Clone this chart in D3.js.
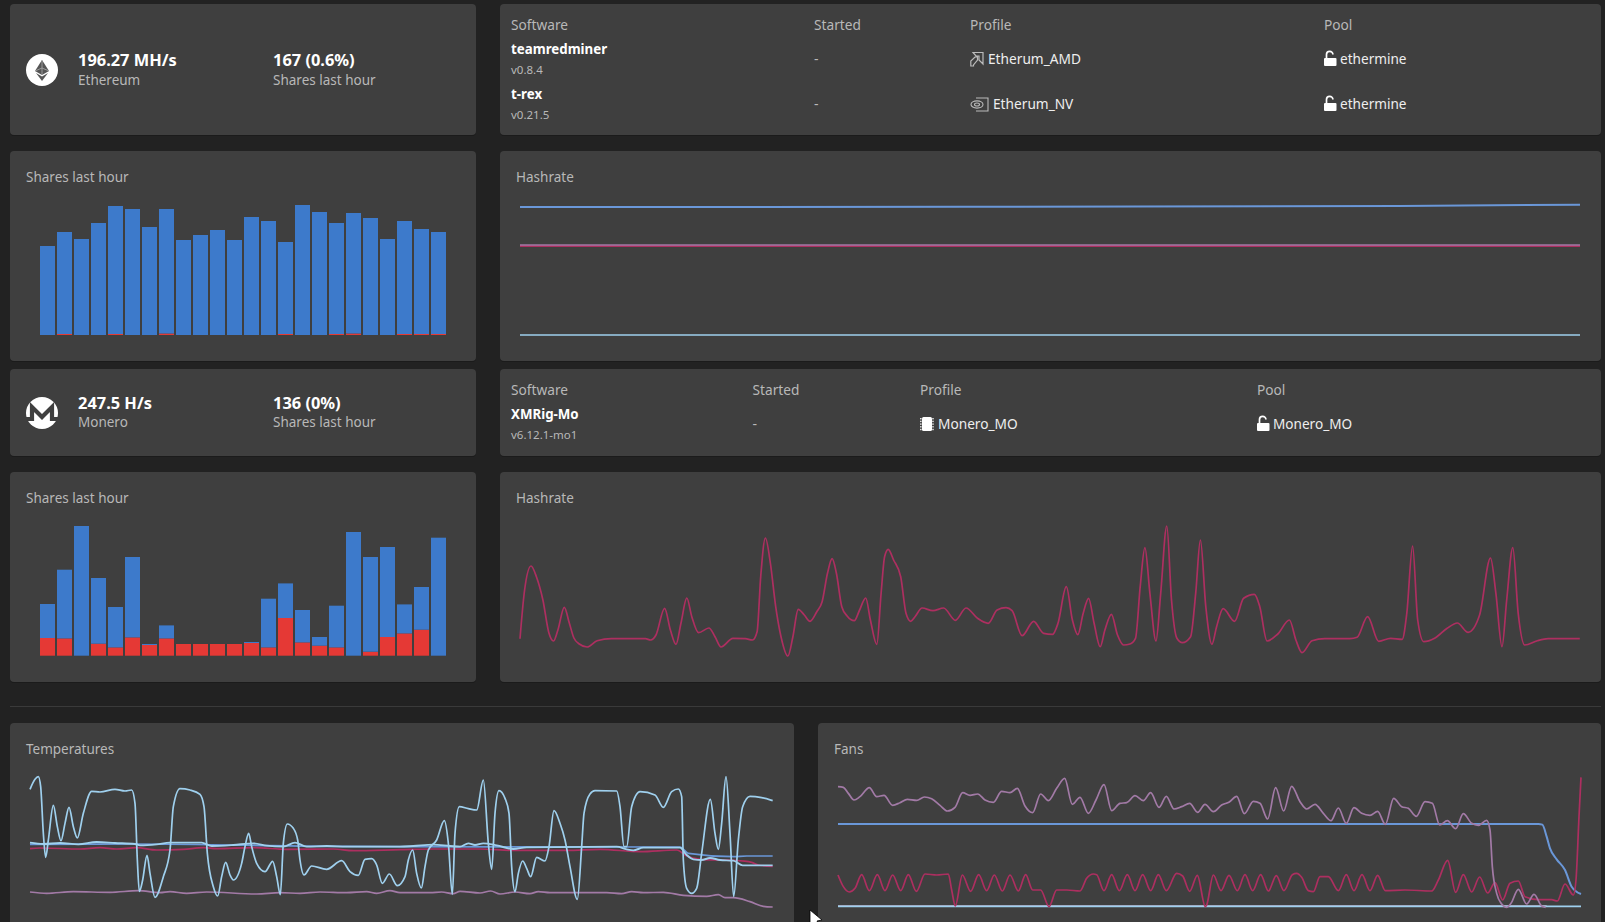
<!DOCTYPE html>
<html><head><meta charset="utf-8"><title>Miner dashboard</title>
<script src="https://cdn.jsdelivr.net/npm/d3@7/dist/d3.min.js"></script>
<style>html,body{margin:0;padding:0;background:#222;overflow:hidden}svg{display:block}text{font-family:"Noto Sans",sans-serif}</style>
</head><body><svg id="c" width="1605" height="922"></svg>
<script>
// ---- Shares last hour (Ethereum): accepted / rejected per period
const ethAccepted=[89,102,96,112,128,126,108,124.5,95,100,105,95,118,114,92,130,123,111,120.5,117,96,113,105,102];
const ethRejected=[0,1,0,0,1,0,0,1.5,0,0,0,0,0,0,1,0,0,1,1.5,0,0,1,1,1];
// ---- Shares last hour (Monero)
const xmrAccepted=[34,68.7,129.7,65.7,40.4,80.4,1,13,0,0,0,0,1,48.7,34.6,32.4,8.7,41.7,123.7,94.7,90,29,42.7,118];
const xmrRejected=[17.7,17.3,0,12,8.3,18.3,10.7,17.3,11.7,11.7,11.7,11.7,12.7,8.3,37.7,13.3,10,8.3,0,4,18.7,22.3,26,0];
// ---- Hashrate (Ethereum): [time, rate]
const ethHashTotal=[[0,129],[440,129.2],[880,130],[1060,131.3]];
const ethHashAmd=[[0,90],[1060,90]];
const ethHashNv=[[0,91],[1060,91]];
const ethHashRest=[[0,1],[1060,1]];
// ---- Hashrate (Monero): [time, rate]
const xmrHash=[[0,17.3],[4.6,66],[11,90],[16.4,79.3],[22.9,56],[28.9,23],[33.6,15],[37.9,26],[44.3,48.7],[49.3,33],[53.9,18],[59.3,12],[67.1,9],[77.1,15.3],[91.4,17.3],[125.4,17.3],[130.7,16],[136,21],[144.6,47.7],[150.4,26],[156,11.7],[161,33],[166.8,58],[171.8,39.3],[178.6,23.3],[188.9,28],[195,19.3],[201,9],[212.9,17.7],[225.4,17.3],[232.5,16],[237.1,24.3],[240.7,79.3],[245.4,118],[250.4,92.7],[255.7,49.3],[261,19.3],[267.9,0],[272.9,19.3],[278.2,46.7],[284.3,41],[290,34.7],[296.8,44.3],[302.1,54.3],[307.5,82.7],[312.1,97.3],[316.4,82.7],[321.8,49.3],[327.1,40],[334.3,35.3],[339.6,46],[345.7,58],[350.4,36],[356.8,11.7],[361.1,62.7],[364.6,99.3],[368.2,106.7],[373.6,96],[380.7,79.3],[386,42.7],[390.7,34.7],[395,39.3],[402.1,48],[412.9,45.3],[423.6,48],[435.4,35.7],[446,48],[457.5,37.7],[468.2,32.7],[477.1,46],[486,48.3],[492.1,45.3],[502.1,20.3],[513.6,34.7],[523.6,22.7],[532.6,21.7],[538,32.7],[546.3,69.3],[552.4,36],[557.8,21.3],[563.2,42.7],[568.6,57.7],[574.1,32.7],[580.2,9.3],[584.9,26],[591.4,41.7],[597.5,21],[603.6,11],[610,12],[615.5,17.7],[620.2,69.3],[624.9,108.3],[629.9,62.7],[636,15],[640.7,62.7],[646.8,130],[651.5,56],[656.9,17.7],[662.3,13.3],[670.6,19.3],[675.7,62.7],[680.4,116],[685.8,49.3],[691.9,11.7],[696.6,29.3],[703.1,47.3],[714.6,34.7],[723.6,57.7],[734.4,61.7],[739.8,49.3],[747,15],[757.8,22],[769.4,36],[775.9,16],[782,3.3],[792.1,15.3],[804.7,17.3],[829.9,17.3],[837.1,18.7],[847.6,39.3],[858.7,14.7],[870.6,17.7],[882.2,16.7],[886.8,42.7],[892.6,110],[897.7,36],[903.8,14.3],[914.6,17.7],[927.2,27.7],[937.3,33],[948.1,23.7],[959.6,41],[970.5,98],[975.9,62.7],[982,9.3],[986.7,56],[992.8,108.3],[998.2,42.7],[1004.7,11],[1017.3,15.3],[1028.1,17.3],[1059.8,17.3]];
// ---- Temperatures: [time, degrees]
const tempA=[[90,372],[105,402],[115,410],[122,380],[130,240],[137,168],[145,220],[160,324],[172,260],[183,218],[195,270],[207,318],[220,260],[232,226],[250,300],[275,366],[300,364],[345,372],[375,367],[395,370],[405,330],[412,160],[418,66],[428,100],[441,174],[450,120],[465,48],[490,110],[510,190],[520,320],[540,374],[570,370],[600,357],[612,320],[622,180],[640,80],[653,52],[665,110],[677,153],[690,115],[700,100],[725,150],[735,200],[746,240],[755,200],[770,150],[795,125],[818,156],[830,110],[841,56],[850,210],[862,268],[880,255],[893,220],[900,160],[912,115],[935,142],[980,132],[1025,158],[1050,125],[1075,114],[1095,162],[1115,164],[1130,145],[1147,90],[1168,118],[1192,83],[1215,110],[1225,160],[1238,190],[1250,120],[1264,76],[1275,140],[1285,190],[1310,220],[1333,278],[1345,210],[1357,57],[1365,240],[1378,320],[1405,314],[1430,310],[1450,400],[1465,210],[1475,132],[1485,300],[1497,368],[1515,345],[1527,300],[1535,140],[1545,65],[1555,120],[1568,157],[1580,135],[1592,110],[1610,168],[1635,157],[1647,200],[1662,308],[1680,270],[1695,220],[1710,140],[1732,42],[1745,200],[1752,300],[1770,358],[1785,368],[1850,367],[1860,320],[1872,200],[1880,200],[1895,320],[1920,365],[1965,355],[1990,318],[2015,365],[2035,373],[2045,350],[2050,160],[2060,75],[2075,60],[2090,75],[2105,180],[2131,342],[2145,240],[2155,192],[2165,270],[2178,410],[2190,240],[2201,50],[2215,220],[2228,320],[2250,351],[2285,347],[2318,338]];
const tempB=[[90,212],[130,208],[180,211],[235,207],[290,214],[345,211],[405,208],[420,204],[470,207],[510,212],[605,212],[635,202],[700,205],[760,210],[800,203],[850,200],[885,212],[920,200],[980,202],[1040,200],[1200,200],[1240,202],[1300,206],[1350,202],[1380,200],[1405,210],[1425,205],[1450,210],[1490,204],[1540,193],[1580,198],[1850,200],[1880,192],[1900,189],[1930,197],[2040,197],[2060,175],[2080,162],[2105,160],[2130,166],[2160,160],[2200,158],[2228,144],[2318,144]];
const tempC=[[90,207],[400,208],[1000,201],[1200,200],[2040,199],[2065,180],[2200,170],[2240,172],[2318,172]];
const tempD=[[90,194],[120,196],[240,193],[300,197],[350,193],[410,197],[470,190],[550,192],[610,197],[650,194],[760,197],[860,192],[1000,193],[1060,188],[1200,191],[1300,193],[1440,193],[1540,189],[1700,189],[1800,192],[1920,185],[2030,190],[2060,172],[2100,162],[2200,159],[2255,153],[2275,145],[2318,141]];
const tempE=[[90,64],[140,60],[220,65],[330,63],[415,68],[480,62],[510,65],[560,60],[620,64],[770,58],[840,62],[900,60],[960,64],[1040,62],[1100,65],[1130,60],[1170,68],[1200,62],[1290,62],[1325,64],[1360,59],[1380,66],[1440,61],[1472,67],[1500,58],[1545,64],[1590,59],[1615,65],[1650,62],[1820,62],[1865,59],[1895,65],[1930,62],[1990,63],[2050,54],[2120,51],[2155,56],[2175,47],[2200,47],[2250,35],[2290,21],[2318,19]];
// ---- Fans: [time, speed]
const fanPurple=[[84,380],[100,378],[115,360],[132,340],[150,350],[178,377],[200,350],[222,354],[248,324],[270,332],[292,342],[320,339],[343,349],[365,344],[390,324],[412,307],[435,318],[458,362],[480,354],[503,358],[525,340],[550,333],[575,366],[600,362],[622,375],[645,322],[668,302],[692,358],[715,338],[740,375],[764,405],[787,327],[810,348],[835,300],[858,340],[882,386],[905,308],[930,330],[950,332],[975,353],[1000,338],[1022,362],[1047,318],[1069,351],[1092,313],[1115,320],[1139,330],[1163,303],[1185,327],[1210,305],[1235,325],[1258,334],[1280,351],[1303,299],[1330,336],[1350,330],[1373,283],[1397,377],[1421,307],[1445,381],[1470,335],[1490,313],[1515,327],[1540,300],[1563,278],[1585,316],[1609,270],[1632,317],[1655,300],[1680,294],[1703,306],[1726,267],[1751,345],[1775,320],[1795,315],[1819,291],[1845,335],[1867,330],[1889,265],[1912,278],[1937,254],[1960,299],[1985,270],[2005,264],[2030,279],[2040,250],[2047,140],[2060,60],[2075,28],[2090,18],[2103,30],[2125,72],[2150,28],[2172,57],[2195,22],[2207,18]];
const fanCrimson=[[84,115],[100,80],[118,64],[135,75],[155,116],[178,68],[202,116],[225,68],[248,115],[272,68],[295,116],[319,66],[345,118],[380,115],[415,118],[425,70],[436,22],[457,115],[482,66],[506,116],[530,68],[553,115],[577,67],[600,115],[625,67],[647,116],[668,70],[692,70],[717,20],[740,70],[770,70],[810,67],[830,105],[850,118],[860,116],[882,68],[905,116],[928,68],[952,116],[975,68],[998,116],[1022,68],[1045,116],[1069,68],[1100,120],[1118,112],[1139,66],[1162,114],[1186,20],[1190,25],[1210,115],[1233,68],[1257,114],[1282,68],[1305,116],[1328,68],[1352,116],[1375,67],[1399,113],[1422,68],[1447,116],[1460,120],[1475,108],[1495,68],[1510,65],[1530,110],[1555,110],[1585,68],[1609,116],[1632,68],[1656,116],[1680,68],[1703,114],[1726,68],[1785,70],[1865,67],[1885,100],[1913,159],[1937,63],[1960,116],[1985,64],[2009,109],[2033,61],[2055,92],[2078,40],[2100,90],[2125,97],[2145,50],[2185,41],[2225,41],[2242,37],[2265,88],[2290,55],[2298,100],[2307,290],[2313,408]];
const fanBlue=[[84,268],[2185,268],[2197,266],[2210,230],[2220,195],[2240,162],[2265,130],[2285,80],[2313,58]];
const fanLight=[[84,21],[2313,21]];
const fanGrey=[[84,23],[2210,23]];
// ---- Text
const headers=["Software","Started","Profile","Pool"];
const ethCoin=["196.27 MH/s","Ethereum","167 (0.6%)","Shares last hour"];
const xmrCoin=["247.5 H/s","Monero","136 (0%)","Shares last hour"];
const ethRows=[["teamredminer","v0.8.4","-","Etherum_AMD","ethermine"],["t-rex","v0.21.5","-","Etherum_NV","ethermine"]];
const xmrRows=[["XMRig-Mo","v6.12.1-mo1","-","Monero_MO","Monero_MO"]];

const RED="#e53935",BLUE="#3d7acb",CRIM="#ad2f60",PURP="#a27aa6",MID="#6a97d8",LIGHT="#9fd0ee";
const LABEL="#b8b8b8",CARD="#3f3f3f";
const svg=d3.select("#c");
function card(x,y,w,h){
  svg.append("rect").attr("x",x).attr("y",y+1).attr("width",w).attr("height",h).attr("rx",4).attr("fill","#1b1b1b");
  svg.append("rect").attr("x",x).attr("y",y).attr("width",w).attr("height",h).attr("rx",4).attr("fill",CARD);
}
function txt(s,x,y,size,col,weight){
  return svg.append("text").attr("x",x).attr("y",y).attr("font-size",size).attr("fill",col).attr("font-weight",weight||400).text(s);
}
[[10,4,466,131],[500,4,1101,131],[10,151,466,210],[500,151,1101,210],[10,369,466,87],[500,369,1101,87],[10,472,466,210],[500,472,1101,210],[10,723,784,215],[818,723,783,215]].forEach(c=>card(...c));
svg.append("line").attr("x1",10).attr("x2",1601).attr("y1",706.5).attr("y2",706.5).attr("stroke","#3a3a3a");

function coin(vals,cy,dy){
  txt(vals[0],78,cy-4,16.4,"#fff",700);
  txt(vals[1],78,cy+15-dy,13.5,LABEL);
  txt(vals[2],273,cy-4,16.4,"#fff",700);
  txt(vals[3],273,cy+15-dy,13.5,LABEL);
}
coin(ethCoin,70,0);coin(xmrCoin,413,1);
[["Shares last hour",26,182],["Hashrate",516,182],["Shares last hour",26,503],["Hashrate",516,503],["Temperatures",26,754],["Fans",834,754]].forEach(d=>txt(d[0],d[1],d[2],13.5,LABEL));

// bars
function bars(acc,rej,yBottom,yTop,maxV){
  const keys=["rejected","accepted"];
  const table=acc.map((a,i)=>({i,accepted:a,rejected:rej[i]}));
  const st=d3.stack().keys(keys)(table);
  const x=d3.scaleBand().domain(d3.range(acc.length)).range([39,447]).paddingInner(2/17).paddingOuter(1/17);
  const y=d3.scaleLinear().domain([0,maxV]).range([yBottom,yTop]);
  const g=svg.append("g");
  g.selectAll("g").data(st).join("g").attr("fill",d=>d.key==="accepted"?BLUE:RED)
    .selectAll("rect").data(d=>d).join("rect")
    .attr("x",d=>x(d.data.i)).attr("width",x.bandwidth())
    .attr("y",d=>y(d[1])).attr("height",d=>y(d[0])-y(d[1]));
}
bars(ethAccepted,ethRejected,335,205,130);
bars(xmrAccepted,xmrRejected,655.7,526,129.7);

// lines
function lines(series,xd,xr,yd,yr,curve){
  const x=d3.scaleLinear().domain(xd).range(xr),y=d3.scaleLinear().domain(yd).range(yr);
  const l=d3.line().x(d=>x(d[0])).y(d=>y(d[1])).curve(curve||d3.curveMonotoneX);
  series.forEach(s=>svg.append("path").attr("d",l(s.d)).attr("fill","none").attr("stroke",s.c).attr("stroke-width",s.w||1.7));
}
lines([{d:ethHashAmd,c:CRIM,w:2},{d:ethHashNv,c:PURP,w:1.5},{d:ethHashTotal,c:MID,w:2},{d:ethHashRest,c:LIGHT,w:1.7}],[0,1060],[520,1580],[0,130],[336,206]);
lines([{d:xmrHash,c:CRIM,w:1.7}],[0,1060],[520,1580],[0,130],[656,526]);
lines([{d:tempE,c:PURP},{d:tempD,c:CRIM},{d:tempC,c:MID},{d:tempA,c:LIGHT},{d:tempB,c:LIGHT,w:1.9}],[90,2318],[30,772.67],[0,410],[913.33,776.67]);
lines([{d:fanGrey,c:"#b09ab0",w:1},{d:fanLight,c:LIGHT,w:1.6},{d:fanBlue,c:MID,w:2},{d:fanCrimson,c:CRIM},{d:fanPurple,c:PURP}],[84,2313],[838,1581],[0,410],[913.33,776.67]);

// tables
function table(xs,hy,rows,rowYs,icons){
  headers.forEach((h,i)=>txt(h,xs[i],hy,13.7,LABEL));
  rows.forEach((r,j)=>{
    const y=rowYs[j];
    txt(r[0],xs[0],y-5,13.3,"#fff",700);
    txt(r[1],xs[0],y+15,11.5,LABEL);
    txt(r[2],xs[1],y+5,14,LABEL);
    txt(r[3],xs[2]+icons[j],y+5,13.7,"#eee");
    txt(r[4],xs[3]+16,y+5,13.6,"#eee");
    lock(xs[3],y);
  });
}
function lock(x,y){
  const g=svg.append("g").attr("transform",`translate(${x},${y})`);
  g.append("rect").attr("x",0).attr("y",-1).attr("width",12.5).attr("height",8).attr("rx",1).attr("fill","#fff");
  g.append("path").attr("d","M2.5,-1 V-4.5 A3.2,3.2 0 0 1 8.9,-4.5").attr("fill","none").attr("stroke","#fff").attr("stroke-width",1.7);
}
table([511,814,970,1324],30,ethRows,[59,104],[18,23]);
table([511,752.5,920,1257],395,xmrRows,[424],[18]);

// icons
function circle(cy){svg.append("circle").attr("cx",42).attr("cy",cy).attr("r",16).attr("fill","#fff");}
circle(70);circle(413);
const eth=svg.append("g").attr("transform","translate(42,70)").attr("fill","#555");
eth.append("path").attr("d","M0,-10 L7,1 L0,5 L-7,1Z");
eth.append("path").attr("d","M0,6.5 L6,3 L0,11 L-6,3Z");
eth.append("path").attr("d","M-7,1 L0,-2 L7,1 M0,-10 V5").attr("stroke","#aaa").attr("stroke-width",.8).attr("fill","none");
svg.append("path").attr("transform","translate(42,413)").attr("d","M-16,6 L-10,6 L-10,-6 L0,4 L10,-6 L10,6 L16,6").attr("fill","none").attr("stroke","#3f3f3f").attr("stroke-width",4.2);
// AMD
const amd=svg.append("g").attr("transform","translate(970,52)").attr("fill","none").attr("stroke","#bbb").attr("stroke-width",1.2);
amd.append("path").attr("d","M3,.5 H13 V12 L9,8 V4 H6 Z M.8,14 V9 L5,5 H7.5 V8 L3.5,13 V14 Z");
// NVIDIA
const nv=svg.append("g").attr("transform","translate(970,97)").attr("fill","none").attr("stroke","#bbb").attr("stroke-width",1.1);
nv.append("path").attr("d","M6,1 H18 V14 H6");nv.append("ellipse").attr("cx",7).attr("cy",7.5).attr("rx",6).attr("ry",3.6);nv.append("ellipse").attr("cx",7).attr("cy",7.5).attr("rx",2.5).attr("ry",1.5);
// CPU chip
const chip=svg.append("g").attr("transform","translate(920,417)");
chip.append("rect").attr("x",2).attr("width",10).attr("height",14).attr("rx",1.5).attr("fill","#fff");
d3.range(5).forEach(i=>{["0","12.2"].forEach(x=>chip.append("rect").attr("x",x).attr("y",1+i*2.7).attr("width",1.6).attr("height",1.4).attr("fill","#ddd"));});
// mouse pointer
svg.append("path").attr("d","M810,910 L810,926 L814,922 L817,929 L820,927 L817,921 L822,920Z").attr("fill","#fff").attr("stroke","#000").attr("stroke-width",.8);
</script></body></html>
